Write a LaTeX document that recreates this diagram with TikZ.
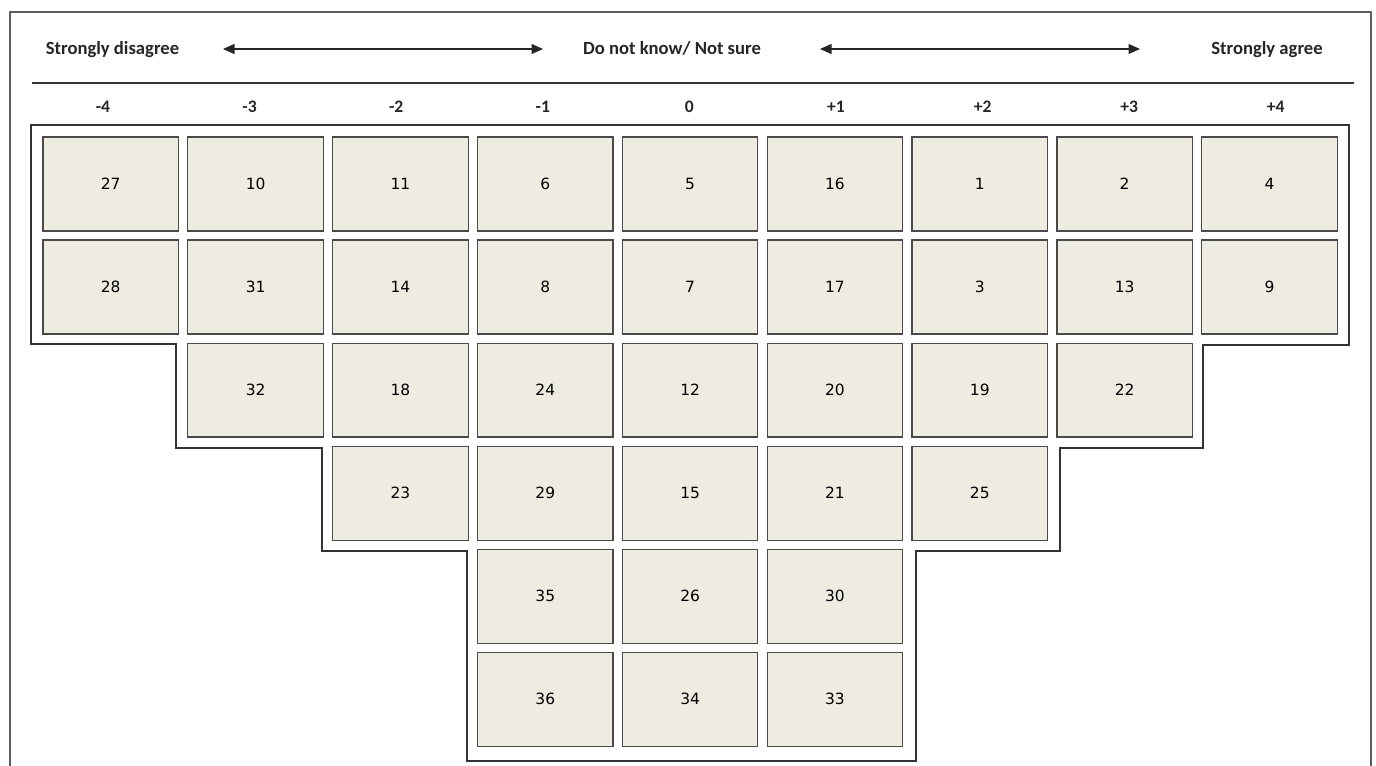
\documentclass[tikz,border=0pt]{standalone}
\usepackage{fontspec}
\setmainfont{Carlito}
\newfontfamily\cellfont{DejaVu Sans}
\usepackage{xcolor}
\usetikzlibrary{arrows.meta}

\definecolor{cellfill}{HTML}{EEEBE0}
\definecolor{celledge}{HTML}{4A4A4A}
\definecolor{framegray}{HTML}{5E5E5E}

\begin{document}
\begin{tikzpicture}[x=0.02cm, y=-0.02cm,
  cell/.style={draw=celledge, fill=cellfill, line width=0.7pt, minimum width=2.71cm,
    minimum height=1.88cm, inner sep=0pt, font=\cellfont\fontsize{8.8}{10}\selectfont},
  heading/.style={anchor=base, font=\bfseries\fontsize{10.6}{12}\selectfont, text=black!85},
  score/.style={anchor=base, font=\bfseries\fontsize{10}{12}\selectfont, text=black!85},
  scalearrow/.style={line width=0.7pt, black!85, {Triangle[length=0.23cm, width=0.2cm]}-{Triangle[length=0.23cm, width=0.2cm]}}]
  \useasboundingbox (0,0) rectangle (1376,766);

  % frame, open at the bottom
  \draw[framegray, line width=0.8pt] (10,766) -- (10,12) -- (1371,12) -- (1371,766);

  % scale headings
  \node[heading] (disagree) at (112.5,55) {Strongly disagree};
  \node[heading] (unsure) at (672,55) {Do not know/ Not sure};
  \node[heading] (agree) at (1267,55) {Strongly agree};
  \coordinate (a1) at (223,49);
  \coordinate (a2) at (543,49);
  \coordinate (a3) at (820,49);
  \coordinate (a4) at (1140,49);
  \draw[scalearrow] (a1) -- (a2);
  \draw[scalearrow] (a3) -- (a4);

  \coordinate (rl) at (32,83);
  \coordinate (rr) at (1354,83);
  \draw[black!80, line width=0.7pt] (rl) -- (rr);

  % column scores
  \foreach \s [count=\k] in {-4,-3,-2,-1,0,+1,+2,+3,+4}
    \node[score] (s\k) at ({103+146.6*(\k-1)},113) {\s};

  % outline of the grid
  \draw[black!80, line width=0.8pt] (31,125) -- (1349,125) -- (1349,345) -- (1203,345)
    -- (1203,448) -- (1060,448) -- (1060,551) -- (916,551) -- (916,761) -- (467,761)
    -- (467,551) -- (322,551) -- (322,448) -- (176,448) -- (176,344) -- (31,344) -- cycle;

  % statement cells
  \foreach \col/\items in {1/{27,28}, 2/{10,31,32}, 3/{11,14,18,23},
      4/{6,8,24,29,35,36}, 5/{5,7,12,15,26,34}, 6/{16,17,20,21,30,33},
      7/{1,3,19,25}, 8/{2,13,22}, 9/{4,9}}
    \foreach \v [count=\row] in \items
      \node[cell] (c\col-\row) at ({110.75+144.84*(\col-1)},{184+103.06*(\row-1)}) {\v};
\end{tikzpicture}
\end{document}
